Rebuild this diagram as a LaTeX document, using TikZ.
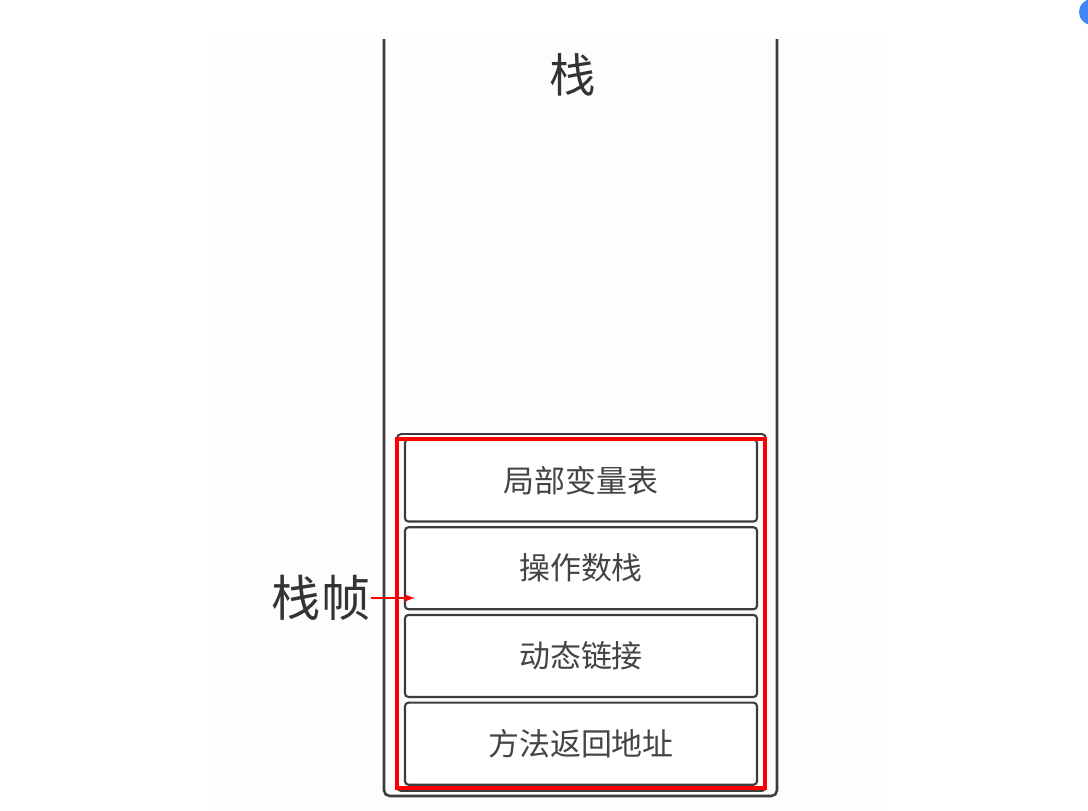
\documentclass[tikz,border=0pt]{standalone}
\usepackage{fontspec}
\setmainfont{Noto Sans CJK SC}
\usetikzlibrary{positioning}
\definecolor{txtgray}{HTML}{333333}
\definecolor{boxtext}{HTML}{444444}
\definecolor{linegray}{HTML}{3C3C3C}
\definecolor{pagegray}{HTML}{FDFDFD}
\definecolor{framered}{HTML}{FF0000}
\definecolor{dotblue}{HTML}{4285F4}
\begin{document}
\begin{tikzpicture}[x=0.025cm, y=-0.025cm,
    slot/.style={draw=linegray, line width=1.5pt, rounded corners=2.5pt, fill=white,
      minimum width=8.8cm, minimum height=2.05cm, inner sep=0pt,
      text=boxtext, font=\fontsize{22}{26}\selectfont},
    bigtext/.style={text=txtgray, inner sep=0pt, font=\fontsize{33}{38}\selectfont}]
    \useasboundingbox (0,0) rectangle (1088,811);
    \fill[pagegray] (209,39) rectangle (887,811);
    \fill[dotblue] (1092,12) circle (13);

    % stack
    \draw[linegray, line width=1.8pt, rounded corners=4pt] (384,39) -- (384,796) -- (777,796) -- (777,39);
    \node[bigtext] (S) at (573,75) {栈};

    % frame
    \draw[linegray, line width=1.4pt, rounded corners=3pt] (397,434) rectangle (766,791);
    \node[slot] (L) at (581,480.5) {局部变量表};
    \node[slot, below=0.09cm of L] (O) {操作数栈};
    \node[slot, below=0.09cm of O] (D) {动态链接};
    \node[slot, below=0.09cm of D] (R) {方法返回地址};
    \draw[framered, line width=2.2pt] (397,439) rectangle (765,788);

    \node[bigtext, font=\fontsize{35}{40}\selectfont] (F) at (321,598) {栈帧};
    \coordinate (FT) at (415,598);
    \draw[-latex, framered, line width=1.4pt] (F.east) -- (FT);
\end{tikzpicture}
\end{document}
